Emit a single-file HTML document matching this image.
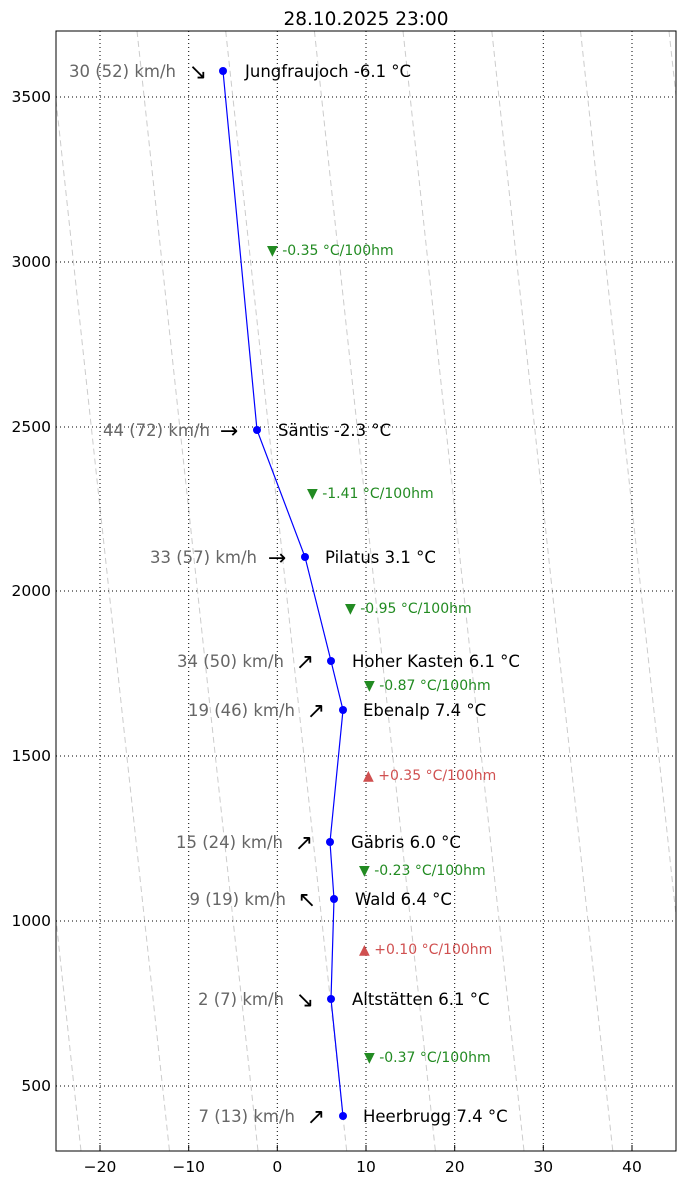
<!DOCTYPE html>
<html><head><meta charset="utf-8"><style>
body{margin:0;background:#fff;}
svg{display:block;font-family:"DejaVu Sans","Liberation Sans",sans-serif;}
</style></head><body>
<svg width="685" height="1182" viewBox="0 0 685 1182" xmlns="http://www.w3.org/2000/svg">
<rect width="685" height="1182" fill="#fff"/>
<text x="366" y="25" font-size="18.5" text-anchor="middle">28.10.2025 23:00</text>
<defs><clipPath id="c"><rect x="56" y="31" width="620" height="1120"/></clipPath></defs>
<g clip-path="url(#c)" stroke="#ccc" stroke-width="1" stroke-dasharray="6,4" fill="none">
<line x1="-40" y1="31" x2="81" y2="1151"/>
<line x1="48.5" y1="31" x2="169.5" y2="1151"/>
<line x1="137" y1="31" x2="258" y2="1151"/>
<line x1="225.7" y1="31" x2="346.7" y2="1151"/>
<line x1="314.4" y1="31" x2="435.4" y2="1151"/>
<line x1="403" y1="31" x2="524" y2="1151"/>
<line x1="491.8" y1="31" x2="612.8" y2="1151"/>
<line x1="580.5" y1="31" x2="701.5" y2="1151"/>
<line x1="669" y1="31" x2="790" y2="1151"/>
</g>
<g stroke="#000" stroke-width="1" stroke-dasharray="1,3" fill="none">
<line x1="100" y1="31" x2="100" y2="1151"/><line x1="188.7" y1="31" x2="188.7" y2="1151"/>
<line x1="277.3" y1="31" x2="277.3" y2="1151"/><line x1="366" y1="31" x2="366" y2="1151"/>
<line x1="454.7" y1="31" x2="454.7" y2="1151"/><line x1="543.3" y1="31" x2="543.3" y2="1151"/>
<line x1="632" y1="31" x2="632" y2="1151"/>
<line x1="56" y1="97" x2="676" y2="97"/><line x1="56" y1="262" x2="676" y2="262"/>
<line x1="56" y1="427" x2="676" y2="427"/><line x1="56" y1="591" x2="676" y2="591"/>
<line x1="56" y1="756" x2="676" y2="756"/><line x1="56" y1="921" x2="676" y2="921"/>
<line x1="56" y1="1086" x2="676" y2="1086"/>
</g>
<rect x="56" y="31" width="620" height="1120" fill="none" stroke="#000" stroke-width="1"/>
<g stroke="#000">
<line x1="100" y1="1151" x2="100" y2="1145"/><line x1="188.7" y1="1151" x2="188.7" y2="1145"/>
<line x1="277.3" y1="1151" x2="277.3" y2="1145"/><line x1="366" y1="1151" x2="366" y2="1145"/>
<line x1="454.7" y1="1151" x2="454.7" y2="1145"/><line x1="543.3" y1="1151" x2="543.3" y2="1145"/>
<line x1="632" y1="1151" x2="632" y2="1145"/>
</g>
<g font-size="15.5" text-anchor="middle">
<text x="100" y="1172">−20</text><text x="188.7" y="1172">−10</text><text x="277.3" y="1172">0</text>
<text x="366" y="1172">10</text><text x="454.7" y="1172">20</text><text x="543.3" y="1172">30</text><text x="632" y="1172">40</text>
</g>
<g font-size="15.5" text-anchor="end">
<text x="51" y="102">3500</text><text x="51" y="267">3000</text><text x="51" y="432">2500</text>
<text x="51" y="596">2000</text><text x="51" y="761">1500</text><text x="51" y="926">1000</text><text x="51" y="1091">500</text>
</g>
<polyline fill="none" stroke="#00f" stroke-width="1.2" points="223,71 257,430 305,557 331,661 343,710 330,842 334,899 331,999 343,1116"/>
<g fill="#00f">
<circle cx="223" cy="71" r="4"/><circle cx="257" cy="430" r="4"/><circle cx="305" cy="557" r="4"/>
<circle cx="331" cy="661" r="4"/><circle cx="343" cy="710" r="4"/><circle cx="330" cy="842" r="4"/>
<circle cx="334" cy="899" r="4"/><circle cx="331" cy="999" r="4"/><circle cx="343" cy="1116" r="4"/>
</g>
<g font-size="16.5">
<text x="245" y="77">Jungfraujoch -6.1 °C</text>
<text x="278" y="436">Säntis -2.3 °C</text>
<text x="325" y="563">Pilatus 3.1 °C</text>
<text x="352" y="667">Hoher Kasten 6.1 °C</text>
<text x="363" y="716">Ebenalp 7.4 °C</text>
<text x="351" y="848">Gäbris 6.0 °C</text>
<text x="355" y="905">Wald 6.4 °C</text>
<text x="352" y="1005">Altstätten 6.1 °C</text>
<text x="363" y="1122">Heerbrugg 7.4 °C</text>
</g>
<g font-size="16.5" fill="#666" text-anchor="end">
<text x="176" y="77">30 (52) km/h</text>
<text x="210" y="436">44 (72) km/h</text>
<text x="257" y="563">33 (57) km/h</text>
<text x="284" y="667">34 (50) km/h</text>
<text x="295" y="716">19 (46) km/h</text>
<text x="283" y="848">15 (24) km/h</text>
<text x="286" y="905">9 (19) km/h</text>
<text x="284" y="1005">2 (7) km/h</text>
<text x="295" y="1122">7 (13) km/h</text>
</g>
<g font-size="22" text-anchor="middle">
<text x="198" y="79">↘</text><text x="229" y="438">→</text><text x="277" y="565">→</text>
<text x="305" y="669">↗</text><text x="316" y="718">↗</text><text x="304" y="850">↗</text>
<text x="307" y="907">↖</text><text x="305" y="1007">↘</text><text x="316" y="1124">↗</text>
</g>
<g font-size="14">
<text x="267" y="255" fill="#228b22">▼ -0.35 °C/100hm</text>
<text x="307" y="498" fill="#228b22">▼ -1.41 °C/100hm</text>
<text x="345" y="613" fill="#228b22">▼ -0.95 °C/100hm</text>
<text x="364" y="690" fill="#228b22">▼ -0.87 °C/100hm</text>
<text x="363" y="780" fill="#d05050">▲ +0.35 °C/100hm</text>
<text x="359" y="875" fill="#228b22">▼ -0.23 °C/100hm</text>
<text x="359" y="954" fill="#d05050">▲ +0.10 °C/100hm</text>
<text x="364" y="1062" fill="#228b22">▼ -0.37 °C/100hm</text>
</g>
</svg>
</body></html>
